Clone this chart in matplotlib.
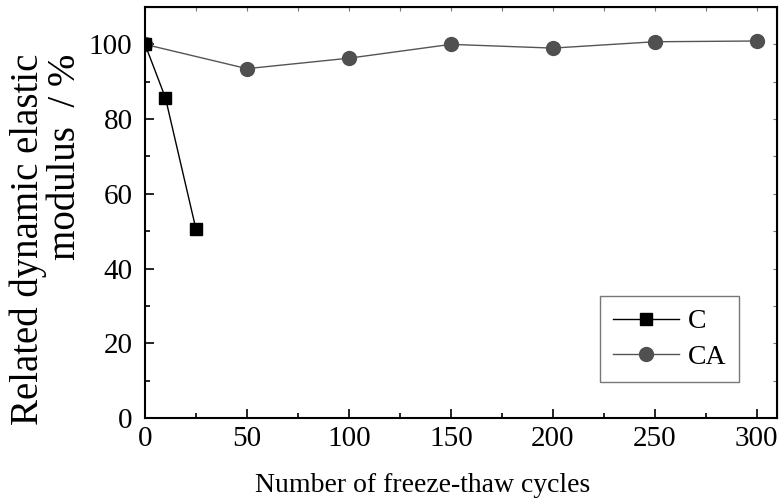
import matplotlib.pyplot as plt
from matplotlib.ticker import MultipleLocator

plt.rcParams['font.family'] = ['Liberation Serif', 'DejaVu Serif']

c_cycles = [0, 10, 25]
c_modulus = [100, 85.7, 50.5]
ca_cycles = [0, 50, 100, 150, 200, 250, 300]
ca_modulus = [100, 93.5, 96.3, 100.0, 99.0, 100.7, 100.9]

fig = plt.figure(figsize=(7.81, 5.0), dpi=100)
ax = fig.add_axes([0.1857, 0.164, 0.8092, 0.822])

ax.plot(ca_cycles, ca_modulus, color='#555555', lw=1, marker='o',
        markersize=10, markerfacecolor='#505050', markeredgecolor='#505050', label='CA', zorder=2)
ax.plot(c_cycles, c_modulus, color='black', lw=1, marker='s',
        markersize=8.5, markerfacecolor='black', label='C', zorder=3)

ax.set_xlim(0, 310)
ax.set_ylim(0, 110)
ax.xaxis.set_major_locator(MultipleLocator(50))
ax.xaxis.set_minor_locator(MultipleLocator(25))
ax.yaxis.set_major_locator(MultipleLocator(20))
ax.yaxis.set_minor_locator(MultipleLocator(10))
ax.tick_params(which='both', direction='in', labelsize=21, width=1.2)
ax.tick_params(which='major', length=6.5)
ax.tick_params(which='minor', length=3.6)
ax.tick_params(axis='x', pad=6)
ax.tick_params(axis='y', pad=9)
for s in ax.spines.values():
    s.set_linewidth(1.5)

# short ticks on top and right
sx = ax.secondary_xaxis('top')
sx.xaxis.set_major_locator(MultipleLocator(25))
sx.tick_params(which='both', direction='in', length=3, width=0.8, labeltop=False, color='#777777')
sy = ax.secondary_yaxis('right')
sy.yaxis.set_major_locator(MultipleLocator(10))
sy.tick_params(which='both', direction='in', length=3, width=0.8, labelright=False, color='#777777')

fig.text(423 / 781, 1 - 492 / 500, 'Number of freeze-thaw cycles', fontsize=20,
         ha='center', va='baseline')
fig.text(47 / 781, 1 - 239 / 500, 'Related dynamic elastic\nmodulus  / %', fontsize=28,
         rotation=90, ha='center', va='center', multialignment='right', linespacing=1.0)

h, l = ax.get_legend_handles_labels()
leg = ax.legend(h[::-1], l[::-1], loc='lower left', bbox_to_anchor=(600 / 781, 1 - 382 / 500),
                bbox_transform=fig.transFigure, fontsize=20, fancybox=False,
                edgecolor='#555555', handlelength=2.4, borderpad=0.45, borderaxespad=0,
                labelspacing=0.35, handletextpad=0.3)
leg.get_frame().set_linewidth(1)

fig.savefig('out.png', dpi=100)
